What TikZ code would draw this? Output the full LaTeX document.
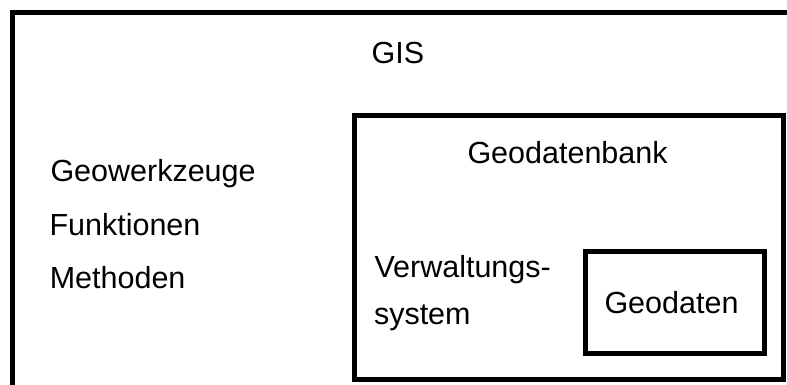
\documentclass[tikz,border=0pt]{standalone}
\usepackage{fontspec}
\setmainfont{Liberation Sans}
\begin{document}
\begin{tikzpicture}[x=1pt,y=-1pt,
  frame/.style={draw=black,line width=5pt,inner sep=0pt,outer sep=0pt,anchor=north west},
  label/.style={inner sep=0pt,outer sep=0pt,anchor=base west,font=\fontsize{30.5}{36}\selectfont}]
\useasboundingbox (0,0) rectangle (787,385);
\clip (0,0) rectangle (787,385);
% GIS frame (runs past the right and bottom edges)
\node[frame,minimum width=820pt,minimum height=420pt] (gis) at (12.5,13) {};
% Geodatenbank frame
\node[frame,minimum width=429pt,minimum height=264pt] (gdb) at (354.5,115.5) {};
% Geodaten frame
\node[frame,minimum width=179pt,minimum height=102pt] (gd) at (585.5,251.5) {};
% texts
\node[label,anchor=base] (tgis) at (398,64) {GIS};
\node[label] (t1) at (50.5,182) {Geowerkzeuge};
\node[label] (t2) at (49.5,235) {Funktionen};
\node[label] (t3) at (49.8,288) {Methoden};
\node[label] (tgdb) at (467.5,164) {Geodatenbank};
\node[label] (tv1) at (374.5,277) {Verwaltungs-};
\node[label] (tv2) at (374,324) {system};
\node[label] (tgd) at (604.5,313) {Geodaten};
\end{tikzpicture}
\end{document}
